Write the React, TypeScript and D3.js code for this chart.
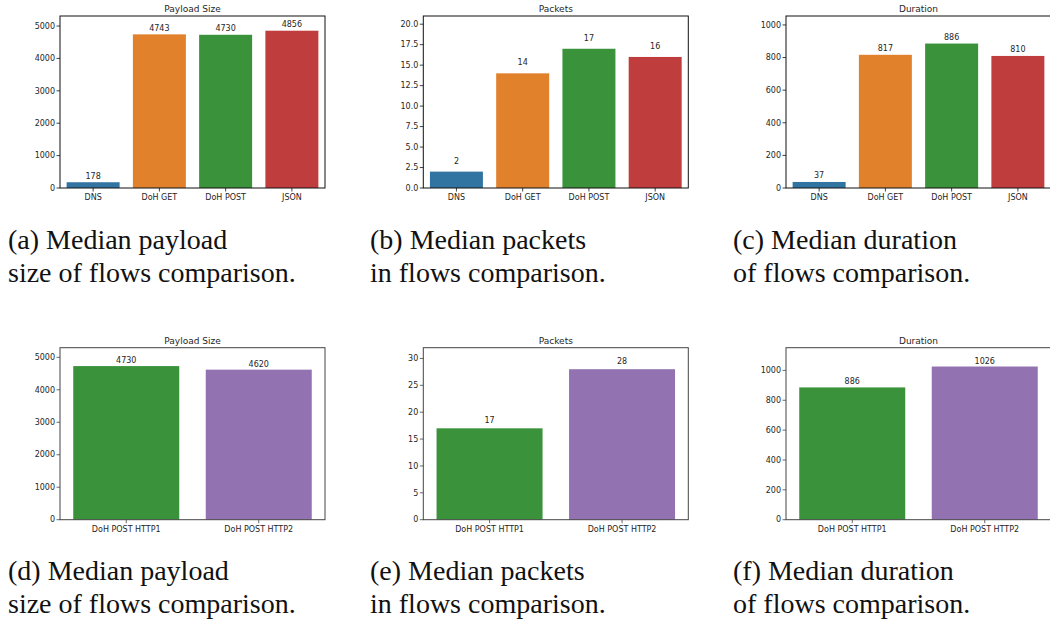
import React from "react";
import * as d3 from "d3";

const topCategories = ["DNS", "DoH GET", "DoH POST", "JSON"];
const topColors = ["#3274a1", "#e1812c", "#3a923a", "#c03d3e"];
const payloadTop = [178, 4743, 4730, 4856];
const packetsTop = [2, 14, 17, 16];
const durationTop = [37, 817, 886, 810];

const bottomCategories = ["DoH POST HTTP1", "DoH POST HTTP2"];
const bottomColors = ["#3a923a", "#9372b2"];
const payloadBottom = [4730, 4620];
const packetsBottom = [17, 28];
const durationBottom = [886, 1026];

const ticksPayload = [0, 1000, 2000, 3000, 4000, 5000];
const ticksPacketsTop = [0, 2.5, 5, 7.5, 10, 12.5, 15, 17.5, 20];
const ticksDuration = [0, 200, 400, 600, 800, 1000];
const ticksPacketsBottom = [0, 5, 10, 15, 20, 25, 30];

type Panel = {
  title: string;
  cats: string[];
  vals: number[];
  colors: string[];
  ticks: number[];
  fmt: (v: number) => string;
  ymax: number;
  x: number;
  y: number;
  gap: number;
  spine: string;
  caption: [string, string];
  capX: number;
  capY: number;
};

const W = 265;
const H = 172;

const panels: Panel[] = [
  { title: "Payload Size", cats: topCategories, vals: payloadTop, colors: topColors, ticks: ticksPayload, fmt: d3.format("d"), ymax: 5310, x: 60, y: 16, gap: 3.3, spine: "#111", caption: ["(a) Median payload", "size of flows comparison."], capX: 8, capY: 249 },
  { title: "Packets", cats: topCategories, vals: packetsTop, colors: topColors, ticks: ticksPacketsTop, fmt: d3.format(".1f"), ymax: 21.0, x: 423.3, y: 16, gap: 8, spine: "#111", caption: ["(b) Median packets", "in flows comparison."], capX: 370, capY: 249 },
  { title: "Duration", cats: topCategories, vals: durationTop, colors: topColors, ticks: ticksDuration, fmt: d3.format("d"), ymax: 1055, x: 786, y: 16, gap: 3.5, spine: "#111", caption: ["(c) Median duration", "of flows comparison."], capX: 733, capY: 249 },
  { title: "Payload Size", cats: bottomCategories, vals: payloadBottom, colors: bottomColors, ticks: ticksPayload, fmt: d3.format("d"), ymax: 5296, x: 60, y: 347.7, gap: 3, spine: "#444", caption: ["(d) Median payload", "size of flows comparison."], capX: 8, capY: 580 },
  { title: "Packets", cats: bottomCategories, vals: packetsBottom, colors: bottomColors, ticks: ticksPacketsBottom, fmt: d3.format("d"), ymax: 32.0, x: 423.3, y: 347.7, gap: 5, spine: "#444", caption: ["(e) Median packets", "in flows comparison."], capX: 370, capY: 580 },
  { title: "Duration", cats: bottomCategories, vals: durationBottom, colors: bottomColors, ticks: ticksDuration, fmt: d3.format("d"), ymax: 1152, x: 786, y: 347.7, gap: 3, spine: "#444", caption: ["(f) Median duration", "of flows comparison."], capX: 733, capY: 580 },
];

const sans = "'DejaVu Sans', sans-serif";
const serif = "'Liberation Serif', 'Times New Roman', serif";

function BarPanel({ p }: { p: Panel }) {
  const x = d3.scaleBand<string>().domain(p.cats).range([0, W]).paddingInner(0.2).paddingOuter(0.1);
  const y = d3.scaleLinear().domain([0, p.ymax]).range([H, 0]);
  return (
    <g transform={`translate(${p.x},${p.y})`}>
      {p.vals.map((v, i) => (
        <rect key={i} x={x(p.cats[i])} y={y(v)} width={x.bandwidth()} height={H - y(v)} fill={p.colors[i]} />
      ))}
      {p.vals.map((v, i) => (
        <text key={"l" + i} x={(x(p.cats[i]) as number) + x.bandwidth() / 2} y={y(v) - p.gap} textAnchor="middle" fontSize={8} fontFamily={sans} fill="#262626">
          {v}
        </text>
      ))}
      <rect x={0} y={0} width={W} height={H} fill="none" stroke={p.spine} strokeWidth={1} />
      {p.ticks.map((t) => (
        <g key={"t" + t} transform={`translate(0,${y(t)})`}>
          <line x1={-3.5} x2={0} stroke={p.spine} strokeWidth={0.8} />
          <text x={-5} dy="0.34em" textAnchor="end" fontSize={8} fontFamily={sans} fill="#262626">
            {p.fmt(t)}
          </text>
        </g>
      ))}
      {p.cats.map((c) => (
        <g key={"c" + c} transform={`translate(${(x(c) as number) + x.bandwidth() / 2},${H})`}>
          <line y1={0} y2={3.5} stroke={p.spine} strokeWidth={0.8} />
          <text y={12} textAnchor="middle" fontSize={8} fontFamily={sans} fill="#262626">
            {c}
          </text>
        </g>
      ))}
      <text x={W / 2} y={-4} textAnchor="middle" fontSize={9} fontFamily={sans} fill="#262626">
        {p.title}
      </text>
    </g>
  );
}

export default function App() {
  return (
    <svg width={1050} height={620} style={{ position: "absolute", left: 0, top: 0, background: "#fff" }}>
      <rect width={1050} height={620} fill="#fff" />
      {panels.map((p, i) => (
        <g key={i}>
          <BarPanel p={p} />
          <text x={p.capX} y={p.capY} fontSize={28} fontFamily={serif} fill="#111">
            {p.caption[0]}
          </text>
          <text x={p.capX} y={p.capY + 33} fontSize={28} fontFamily={serif} fill="#111">
            {p.caption[1]}
          </text>
        </g>
      ))}
    </svg>
  );
}
